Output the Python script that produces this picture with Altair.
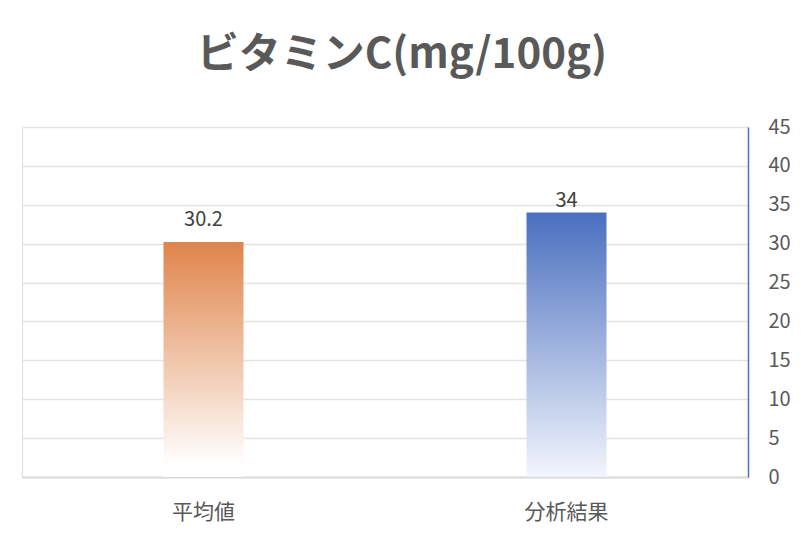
import altair as alt
import pandas as pd

categories = ["平均値", "分析結果"]
values = [30.2, 34]
labels = ["30.2", "34"]

df = pd.DataFrame({"cat": categories, "val": values, "lab": labels})

FONT = "Noto Sans CJK JP"

x_enc = alt.X("cat:N", sort=categories, title=None,
              scale=alt.Scale(paddingInner=0, paddingOuter=0),
              axis=alt.Axis(labelAngle=0, ticks=False, domainColor="#D9D9D9", domainWidth=2,
                            labelFontSize=21, labelColor="#595959", labelPadding=24, labelFont=FONT))
y_enc = alt.Y("val:Q", title=None,
              scale=alt.Scale(domain=[0, 45], nice=False),
              axis=alt.Axis(orient="right", values=list(range(0, 50, 5)), ticks=False,
                            domainColor="#4472C4", domainWidth=1.5, gridColor="#E3E3E3", gridWidth=1.5,
                            labelFontSize=20, labelColor="#595959", labelPadding=20, labelFont=FONT,
                            labelAlign="left"))

orange = alt.Gradient(gradient="linear", x1=0, x2=0, y1=0, y2=1,
                      stops=[alt.GradientStop(offset=0, color="#E0844A"),
                             alt.GradientStop(offset=0.95, color="#FFFFFF"),
                             alt.GradientStop(offset=1, color="#FFFFFF")])
blue = alt.Gradient(gradient="linear", x1=0, x2=0, y1=0, y2=1,
                    stops=[alt.GradientStop(offset=0, color="#4A6FC0"),
                           alt.GradientStop(offset=1, color="#F2F5FC")])

base = alt.Chart(df).encode(x=x_enc, y=y_enc)

bar1 = base.transform_filter(alt.datum.cat == categories[0]).mark_bar(size=80, color=orange)
bar2 = base.transform_filter(alt.datum.cat == categories[1]).mark_bar(size=80, color=blue)
txt1 = base.transform_filter(alt.datum.cat == categories[0]).mark_text(
    dy=-16, baseline="alphabetic", fontSize=20, color="#404040", font=FONT).encode(text="lab:N")
txt2 = base.transform_filter(alt.datum.cat == categories[1]).mark_text(
    dy=-6, baseline="alphabetic", fontSize=20, color="#404040", font=FONT).encode(text="lab:N")

chart = alt.layer(bar1, bar2, txt1, txt2).properties(
    width=726, height=350,
    padding={"left": 14, "top": 26, "right": 5, "bottom": 5},
    title=alt.TitleParams("ビタミンC(mg/100g)", fontSize=42, fontWeight="bold", color="#595959",
                          font=FONT, anchor="middle", offset=40, dx=17),
).configure_view(stroke=None).configure(background="white")

chart.save("out.html", embed_options={"renderer": "svg", "actions": False})
